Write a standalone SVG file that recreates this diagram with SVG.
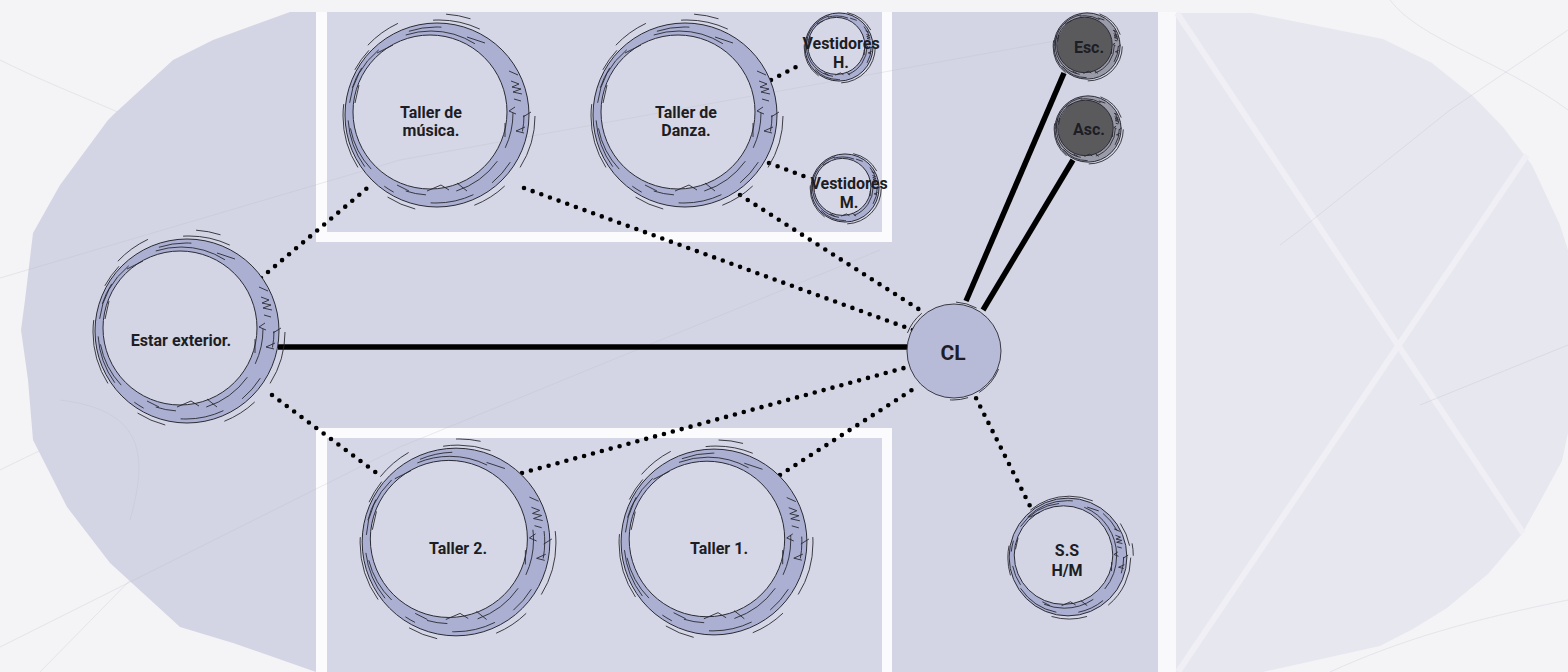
<svg xmlns="http://www.w3.org/2000/svg" xmlns:xlink="http://www.w3.org/1999/xlink" width="1568" height="672" viewBox="0 0 1568 672">
<style>
.ring{fill:#abafd1}
.ringg{fill:#9a9ba8}
.band{stroke:#2b2b36;stroke-width:1}
.sk{fill:none;stroke:#2a2a33;stroke-width:0.9}
.lbl{font-family:Roboto,"Liberation Sans",sans-serif;font-weight:700;font-size:16px;fill:#1d1d24;text-anchor:middle}
.dot{fill:none;stroke:#000;stroke-width:4.6;stroke-linecap:round;stroke-dasharray:0 9.2}
.solid{fill:none;stroke:#000;stroke-width:5.5}
.vein{fill:none;stroke:#b9bac6;stroke-width:0.8;opacity:0.35}
</style>
<defs>
<g id="ring">
<path class="band" vector-effect="non-scaling-stroke" fill-rule="evenodd" d="M92,0A92,92 0 1 1 -92,0A92,92 0 1 1 92,0Z M70,-3A77,77 0 1 0 -84,-3A77,77 0 1 0 70,-3Z"/>
<circle class="sk" vector-effect="non-scaling-stroke" cx="2" cy="1" r="96" pathLength="100" stroke-dasharray="9 4 6 10 5 7 11 6 4 12 8 18"/>
<circle class="sk" vector-effect="non-scaling-stroke" cx="-6" cy="-2" r="82" pathLength="100" stroke-dasharray="7 3 10 6 4 8 9 5 12 6 14 16"/>
<circle class="sk" vector-effect="non-scaling-stroke" cx="-1" cy="0" r="88" pathLength="100" stroke-dasharray="3 6 5 4 8 7 2 5 9 6 4 11 6 24"/>
<circle class="sk" vector-effect="non-scaling-stroke" cx="3" cy="-2" r="99" pathLength="100" stroke-dasharray="0 62 6 8 4 20"/>
<path class="sk" vector-effect="non-scaling-stroke" d="M72,-44 l9,4 M74,-34 l8,3 l-7,3 l9,2 l-8,3 l9,2 M77,-16 l7,2 M78,-8 l-6,4 l7,3 M86,2 l8,-5 M88,12 l-9,4 l8,2 M68,8 l0,14 M-40,70 l12,6 M-10,76 l14,-6 l8,5 M20,68 l10,8 M-60,-62 l16,-8 M-78,-30 l-4,18 M30,-78 l18,6"/>
</g>
</defs>

<g id="background">
<rect x="0" y="0" width="1568" height="672" fill="#f4f4f7"/>
<path class="vein" d="M0,60 C60,90 120,110 200,150 M1390,0 C1420,40 1500,60 1568,110 M0,470 C80,430 120,420 150,360 M1330,672 C1400,640 1470,620 1568,600 M40,672 L150,560"/>
<path d="M290,12 L1158,12 L1158,672 L316,672 L233,643 L180,627 L110,563 L67,507 L33,440 L28,380 L21,330 L25,300 L33,233 L60,185 L108,120 L113,115 L173,60 L213,40 Z" fill="#d3d5e4"/>
<rect x="316" y="12" width="576" height="230" fill="#fbfbfd"/>
<rect x="327" y="12" width="555" height="220" fill="#d5d7e6"/>
<rect x="316" y="428" width="576" height="244" fill="#fbfbfd"/>
<rect x="327" y="438" width="555" height="234" fill="#d5d7e6"/>
<rect x="1158" y="12" width="18" height="660" fill="#f9f9fb"/>
<path d="M1176,13 L1252,13 L1383,39 L1432,63 L1473,96 L1503,127 L1532,165 L1560,225 L1568,250 L1568,433 L1562,461 L1543,496 L1522,534 L1488,574 L1447,608 L1413,629 L1380,646 L1263,672 L1176,672 Z" fill="#e7e7ef"/>
<path d="M1177,13 L1523,533 M1527,155 L1178,672" stroke="#efeff5" stroke-width="6" fill="none"/>
<path class="vein" d="M0,278 L400,160 L1060,40 M0,647 L400,447 L880,250 M1568,30 L1450,110 L1300,230 L1280,245 M1568,345 L1420,405 M60,400 C140,410 150,450 130,520"/>
</g>

<g id="connectors">
<line class="solid" x1="278" y1="347" x2="907" y2="347"/>
<line class="solid" x1="966" y1="301" x2="1064" y2="73"/>
<line class="solid" x1="983" y1="310" x2="1073" y2="160"/>
<line class="dot" x1="261" y1="278" x2="372" y2="184"/>
<line class="dot" x1="272" y1="395" x2="382" y2="477"/>
<line class="dot" x1="524" y1="188" x2="913" y2="330"/>
<line class="dot" x1="740" y1="195" x2="920" y2="310"/>
<line class="dot" x1="771" y1="80" x2="800" y2="65"/>
<line class="dot" x1="769" y1="163" x2="806" y2="177"/>
<line class="dot" x1="522" y1="473" x2="904" y2="368"/>
<line class="dot" x1="780" y1="475" x2="918" y2="386"/>
<line class="dot" x1="972" y1="390" x2="1032" y2="510"/>
</g>

<g id="node-estar">
<use href="#ring" class="ring" transform="translate(187,331)"/>
<text class="lbl" x="181" y="346">Estar exterior.</text>
</g>
<g id="node-musica">
<use href="#ring" class="ring" transform="translate(437,115)"/>
<text class="lbl" x="431" y="118">Taller de</text>
<text class="lbl" x="431" y="136">música.</text>
</g>
<g id="node-danza">
<use href="#ring" class="ring" transform="translate(685,115)"/>
<text class="lbl" x="686" y="118">Taller de</text>
<text class="lbl" x="686" y="136">Danza.</text>
</g>
<g id="node-vest-h">
<use href="#ring" class="ring" transform="translate(839,47) scale(0.37)"/>
<text class="lbl" x="841" y="49">Vestidores</text>
<text class="lbl" x="841" y="68">H.</text>
</g>
<g id="node-vest-m">
<use href="#ring" class="ring" transform="translate(845,188) scale(0.37)"/>
<text class="lbl" x="849" y="189">Vestidores</text>
<text class="lbl" x="849" y="208">M.</text>
</g>
<g id="node-esc">
<circle cx="1087" cy="46" r="30" fill="#5a5a5d"/>
<use href="#ring" class="ringg" transform="translate(1087,46) scale(0.36)"/>
<text class="lbl" x="1089" y="53">Esc.</text>
</g>
<g id="node-asc">
<circle cx="1088" cy="129" r="30" fill="#5a5a5d"/>
<use href="#ring" class="ringg" transform="translate(1088,129) scale(0.36)"/>
<text class="lbl" x="1089" y="135">Asc.</text>
</g>
<g id="node-cl">
<circle cx="954" cy="351" r="47" fill="#b8bbd8" stroke="#3a3a45" stroke-width="1"/>
<circle class="sk" cx="953" cy="351" r="49" pathLength="100" stroke-dasharray="0 6 10 4 6 30 8 12 7 17"/>
<text class="lbl" x="953" y="360" style="font-size:21px">CL</text>
</g>
<g id="node-ss">
<use href="#ring" class="ring" transform="translate(1068,557) scale(0.64)"/>
<text class="lbl" x="1067" y="556">S.S</text>
<text class="lbl" x="1067" y="576">H/M</text>
</g>
<g id="node-taller2">
<use href="#ring" class="ring" transform="translate(456,542) scale(1.02)"/>
<text class="lbl" x="458" y="554">Taller 2.</text>
</g>
<g id="node-taller1">
<use href="#ring" class="ring" transform="translate(714,542) scale(1.01)"/>
<text class="lbl" x="719" y="554">Taller 1.</text>
</g>
</svg>
